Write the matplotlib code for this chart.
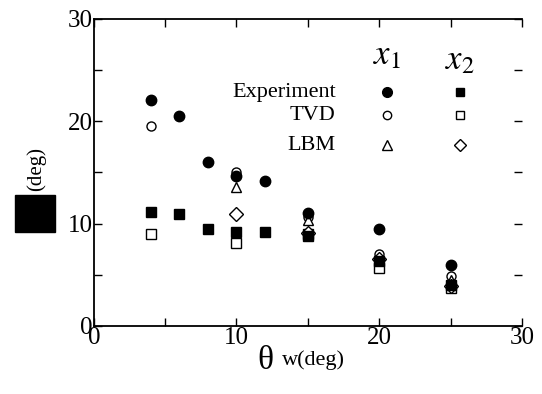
import matplotlib
matplotlib.use("Agg")
import matplotlib.pyplot as plt
from matplotlib.patches import Rectangle

plt.rcParams["font.family"] = ["Liberation Serif", "DejaVu Serif"]
plt.rcParams["mathtext.fontset"] = "stix"

# Experiment / TVD / LBM for x1 and x2
exp_x = [4, 6, 8, 10, 12, 15, 20, 25]
exp_x1 = [22.1, 20.5, 16.0, 14.6, 14.2, 11.0, 9.5, 5.9]
exp_x2 = [11.1, 10.9, 9.5, 9.2, 9.2, 8.8, 6.3, 4.0]

tvd_x = [4, 10, 15, 20, 25]
tvd_x1 = [19.5, 15.0, 10.6, 7.0, 4.9]
tvd_x2 = [9.0, 8.1, 9.0, 5.7, 3.7]

lbm_x = [10, 15, 20, 25]
lbm_x1 = [13.6, 10.3, 6.6, 4.5]
lbm_x2 = [10.9, 9.1, 6.5, 3.9]

fig = plt.figure(figsize=(5.42, 3.94), dpi=100)
ax = fig.add_axes([0.173, 0.173, 0.79, 0.779])

ax.plot(exp_x, exp_x1, "o", color="black", ms=7.5, zorder=3)
ax.plot(exp_x, exp_x2, "s", color="black", ms=6.5, zorder=3)
ax.plot(tvd_x, tvd_x1, "o", mfc="white", mec="black", mew=1, ms=6.5, zorder=2)
ax.plot(tvd_x, tvd_x2, "s", mfc="white", mec="black", mew=1, ms=6.5, zorder=2)
ax.plot(lbm_x, lbm_x1, "^", mfc="white", mec="black", mew=1, ms=7, zorder=2)
ax.plot(lbm_x, lbm_x2, "D", mfc="white", mec="black", mew=1, ms=7, zorder=2)

ax.set_xlim(0, 30)
ax.set_ylim(0, 30)
ax.set_xticks([0, 10, 20, 30])
ax.set_yticks([0, 10, 20, 30])
ax.set_xticks([5, 15, 25], minor=True)
ax.set_yticks([5, 15, 25], minor=True)
ax.tick_params(which="both", direction="in", top=True, right=True,
               labelsize=18, length=6, width=1, pad=1)
ax.spines["right"].set_visible(False)
for s in ["left", "bottom", "top"]:
    ax.spines[s].set_linewidth(1.3)

# manual legend block
lx = [0.685, 0.855]
ly = [0.761, 0.686, 0.588]
names = ["Experiment", "TVD", "LBM"]
sty1 = [dict(marker="o", color="black", ms=7),
        dict(marker="o", mfc="white", mec="black", ms=6),
        dict(marker="^", mfc="white", mec="black", ms=6.5)]
sty2 = [dict(marker="s", color="black", ms=6),
        dict(marker="s", mfc="white", mec="black", ms=6),
        dict(marker="D", mfc="white", mec="black", ms=6.5)]
for name, y, s1, s2 in zip(names, ly, sty1, sty2):
    ax.text(0.565, y, name, transform=ax.transAxes, ha="right", va="center", fontsize=16)
    ax.plot([lx[0]], [y], transform=ax.transAxes, ls="none", **s1)
    ax.plot([lx[1]], [y], transform=ax.transAxes, ls="none", **s2)
ax.text(lx[0], 0.88, "$x_1$", transform=ax.transAxes, ha="center", va="center", fontsize=25)
ax.text(lx[1], 0.865, "$x_2$", transform=ax.transAxes, ha="center", va="center", fontsize=25)

# axis labels
fig.text(0.505, 0.085, "θ", fontsize=24, ha="right", va="center")
fig.text(0.52, 0.085, "w(deg)", fontsize=16, ha="left", va="center")
fig.text(0.067, 0.57, "(deg)", fontsize=15, rotation=90, ha="center", va="center")
fig.patches.append(Rectangle((0.027, 0.41), 0.075, 0.095, transform=fig.transFigure,
                             color="black"))

fig.savefig("out.png", dpi=100)
